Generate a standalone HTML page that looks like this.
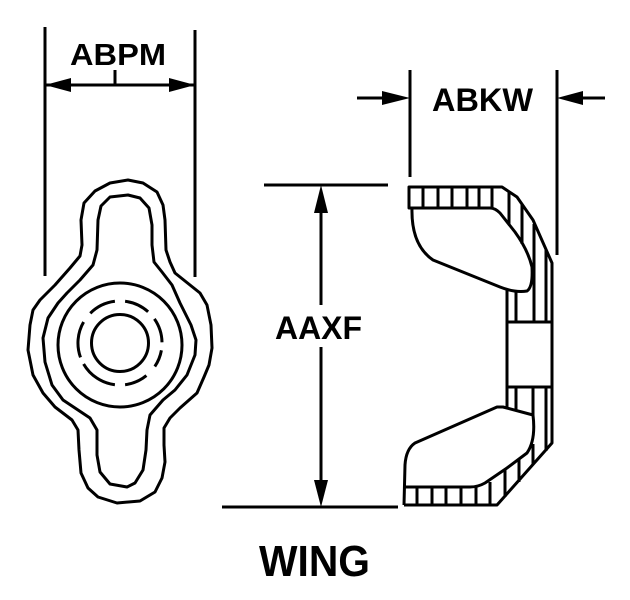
<!DOCTYPE html>
<html><head><meta charset="utf-8"><style>
html,body{margin:0;padding:0;background:#fff;}
svg{display:block;}
text{font-family:"Liberation Sans",Arial,sans-serif;font-weight:bold;fill:#000;}
</style></head><body>
<svg width="630" height="600" viewBox="0 0 630 600" xmlns="http://www.w3.org/2000/svg">
<g fill="none" stroke="#000" stroke-width="3" stroke-linejoin="round" stroke-linecap="butt">
<!-- ABPM dimension -->
<line x1="45" y1="27" x2="45" y2="276"/>
<line x1="195" y1="30" x2="195" y2="277"/>
<line x1="45" y1="85" x2="195" y2="85"/>
<line x1="115" y1="70" x2="115" y2="85"/>
<!-- left view outer -->
<path d="M128,180 L143,183 L157,192 L163,205 L165,220 L166,250 L170,262 L175,273 L190,285 L200,293 L207,305 L211,325 L212,348 L209,365 L204,377 L197,393 L180,408 L170,418 L164,428 L164,445 L165,462 L162,478 L155,492 L140,501 L117,503 L98,497 L88,488 L81,473 L79,450 L78,430 L72,420 L55,407 L43,393 L33,375 L28,350 L30,325 L33,310 L40,300 L55,285 L70,268 L80,256 L82,245 L81,220 L84,203 L95,191 L110,183 Z"/>
<path d="M128,195 L140,198 L149,208 L152,225 L152,245 L154,262 L162,272 L172,285 L180,303 L191,325 L196,340 L195,355 L187,375 L175,390 L163,400 L150,415 L147,430 L146,450 L143,470 L135,483 L127,487 L110,484 L100,472 L97,455 L97,430 L90,418 L75,408 L63,400 L52,385 L45,362 L43,338 L48,318 L58,303 L67,293 L80,280 L93,265 L97,250 L98,220 L101,206 L110,197 Z"/>
<circle cx="120" cy="345" r="62"/>
<circle cx="120" cy="343" r="28.5"/>
<path d="M114.9,301.3 A42,42 0 0 0 90.3,313.3 M83.6,322 A42,42 0 0 0 80.5,357.4 M83.6,364 A42,42 0 0 0 114.9,384.7 M125.1,384.7 A42,42 0 0 0 146.4,375.6 M154.8,366.5 A42,42 0 0 0 161.4,350.3 M162,342.3 A42,42 0 0 0 154.4,318.9 M148.1,311.8 A42,42 0 0 0 125.1,301.3"/>
<!-- ABKW dimension -->
<line x1="410" y1="70" x2="410" y2="177"/>
<line x1="557" y1="70" x2="557" y2="255"/>
<line x1="357" y1="98" x2="400" y2="98"/>
<line x1="570" y1="98" x2="605" y2="98"/>
<!-- AAXF dimension -->
<line x1="264" y1="185" x2="388" y2="185"/>
<line x1="222" y1="507" x2="398" y2="507"/>
<line x1="321" y1="200" x2="321" y2="305"/>
<line x1="321" y1="347" x2="321" y2="490"/>
<!-- side view outer -->
<path d="M412,208 L409,208 L409,187 L502,187 L517,197 L533,220 L552,263 L552,443 L497,505 L404,505"/>
<!-- upper wing face -->
<path d="M412,208 Q411,245 433,260 L500,287 Q515,293 527,291 Q533,287 532,267 Q528,250 515,232 L500,213 Q495,208 490,208 Z"/>
<!-- lower wing face -->
<path d="M404,505 L405,465 Q406,449 415,443 L497,407 L503,407 L533,415 Q536,440 527,453 L507,468 L485,483 Q478,487 470,487 L405,487"/>
<!-- hub -->
<rect x="507" y="322" width="45" height="65"/>
<line x1="507" y1="290" x2="507" y2="322"/>
<line x1="507" y1="387" x2="507" y2="408"/>
<!-- hatches top -->
<path d="M423,187V208 M438,187V208 M452,187V208 M467,187V208 M479,187V208 M492,187V208 M509,192V224 M522,204V244 M534,224V322 M546,250V322 M516,292V322"/>
<!-- hatches lower hub -->
<path d="M516,387V410 M533,387V415 M546,387V451 M533,444V465"/>
<!-- hatches bottom strip -->
<path d="M417,487V505 M432,487V505 M446,487V505 M461,487V505 M476,487V505 M490,482V505 M505,470V497 M519,459V482"/>
</g>
<g fill="#000" stroke="none">
<polygon points="45,85 71,78 71,92"/>
<polygon points="195,85 169,78 169,92"/>
<polygon points="410,98 382,91 382,105"/>
<polygon points="557,98 583,91 583,105"/>
<polygon points="321,185 314,213 328,213"/>
<polygon points="321,507 314,480 328,480"/>
</g>
<text x="70" y="65" font-size="31" textLength="96" lengthAdjust="spacingAndGlyphs">ABPM</text>
<text x="432" y="111" font-size="32" textLength="101" lengthAdjust="spacingAndGlyphs">ABKW</text>
<text x="275" y="339" font-size="32" textLength="87" lengthAdjust="spacingAndGlyphs">AAXF</text>
<text x="259" y="576" font-size="44" textLength="111" lengthAdjust="spacingAndGlyphs">WING</text>
</svg>
</body></html>
